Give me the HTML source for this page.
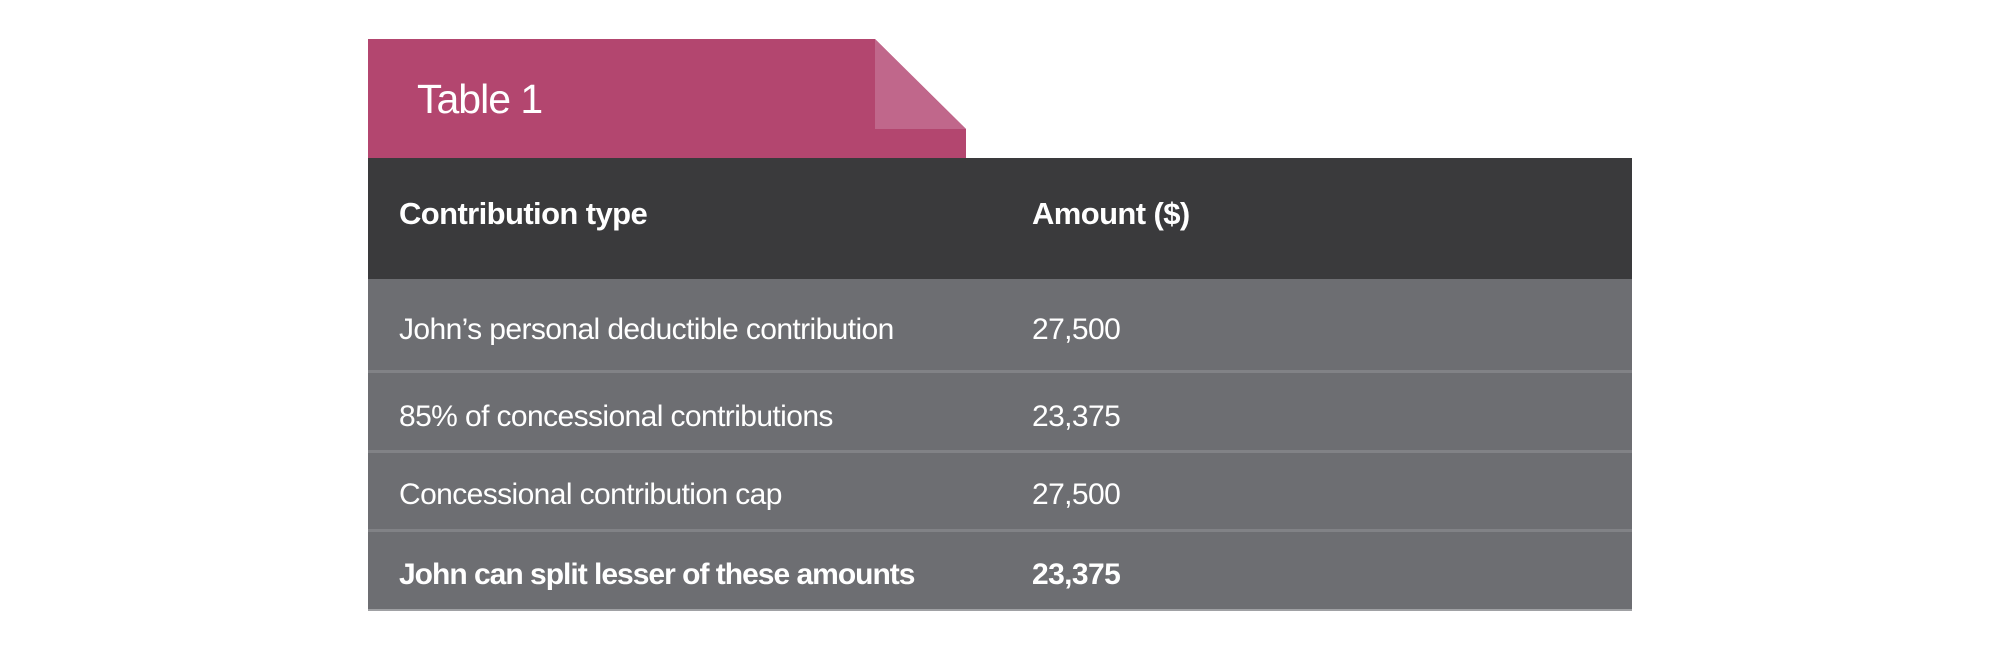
<!DOCTYPE html>
<html><head><meta charset="utf-8"><style>
body{margin:0;width:2000px;height:651px;background:#fff;position:relative;overflow:hidden;font-family:"Liberation Sans",sans-serif;color:#fff}
div{position:absolute;box-sizing:border-box}
.t{white-space:nowrap;font-size:30px;letter-spacing:-0.6px}
</style></head><body>
<svg style="position:absolute;left:0;top:0" width="2000" height="651">
<polygon points="368,39 875,39 966,129 966,159 368,159" fill="#b3466f"/>
<polygon points="875,39 966,129 875,129" fill="#c0678b"/>
</svg>
<div class="t" style="left:417px;top:76px;font-size:41px;font-weight:300;letter-spacing:-1px">Table 1</div>
<div style="left:368px;top:158px;width:1264px;height:121px;background:#3a3a3c"></div>
<div class="t" style="left:399px;top:196px;font-weight:bold;font-size:31px">Contribution type</div>
<div class="t" style="left:1032px;top:196px;font-weight:bold;font-size:31px">Amount ($)</div>
<div style="left:368px;top:279px;width:1264px;height:332px;background:#6d6e72"></div>
<div style="left:368px;top:370px;width:1264px;height:3px;background:#818286"></div>
<div style="left:368px;top:450px;width:1264px;height:3px;background:#818286"></div>
<div style="left:368px;top:529px;width:1264px;height:3px;background:#818286"></div>
<div style="left:368px;top:609px;width:1264px;height:2px;background:#a0a1a4"></div>
<div class="t" style="left:399px;top:313px">John’s personal deductible contribution</div>
<div class="t" style="left:1032px;top:313px">27,500</div>
<div class="t" style="left:399px;top:400px">85% of concessional contributions</div>
<div class="t" style="left:1032px;top:400px">23,375</div>
<div class="t" style="left:399px;top:478px">Concessional contribution cap</div>
<div class="t" style="left:1032px;top:478px">27,500</div>
<div class="t" style="left:399px;top:558px;font-weight:bold;letter-spacing:-1px">John can split lesser of these amounts</div>
<div class="t" style="left:1032px;top:558px;font-weight:bold">23,375</div>
</body></html>
